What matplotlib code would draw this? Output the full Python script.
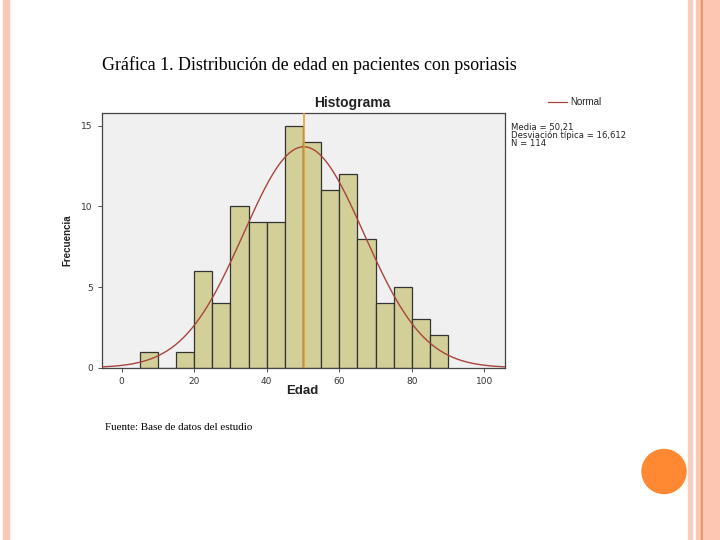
import numpy as np
import matplotlib.pyplot as plt
from matplotlib.patches import Circle, Rectangle

# histogram data (Edad, bins of 5 years)
bin_left = [5, 10, 15, 20, 25, 30, 35, 40, 45, 50, 55, 60, 65, 70, 75, 80, 85]
counts = [1, 0, 1, 6, 4, 10, 9, 9, 15, 14, 11, 12, 8, 4, 5, 3, 2]
bin_width = 5
media = 50.21
desv = 16.612
n_total = 114
x_ticks = [0, 20, 40, 60, 80, 100]
y_ticks = [0, 5, 10, 15]
stats_lines = ['Media = 50,21', 'Desviación típica = 16,612', 'N = 114']

W, H = 720, 540
fig = plt.figure(figsize=(7.2, 5.4), dpi=100)
fig.patch.set_facecolor('white')

def fx(px):
    return px / W

def fy(py):
    return 1 - py / H

# slide decoration
fig.patches.append(Rectangle((fx(3), 0), fx(6), 1, transform=fig.transFigure,
                             color='#F9C9B6', zorder=0))
fig.patches.append(Rectangle((fx(688), 0), fx(4), 1, transform=fig.transFigure,
                             color='#F9CDBD', zorder=0))
fig.patches.append(Rectangle((fx(696), 0), fx(5), 1, transform=fig.transFigure,
                             color='#FAC7B3', zorder=0))
fig.patches.append(Rectangle((fx(701), 0), fx(2), 1, transform=fig.transFigure,
                             color='#E9906A', zorder=0))
fig.patches.append(Rectangle((fx(703), 0), fx(17), 1, transform=fig.transFigure,
                             color='#FDC6B3', zorder=0))
ax_c = fig.add_axes([0, 0, 1, 1], zorder=0)
ax_c.set_xlim(0, W)
ax_c.set_ylim(H, 0)
ax_c.set_aspect('equal')
ax_c.axis('off')
ax_c.add_patch(Circle((664, 471.5), 22, color='#FF8833'))

# histogram
ax = fig.add_axes([fx(101.7), fy(367.7), fx(505 - 101.7), (367.7 - 112.7) / H], zorder=2)
ax.set_facecolor('#F0F0F0')
ax.bar(bin_left, counts, width=bin_width, align='edge', color='#D3CF99',
       edgecolor='#333333', linewidth=0.9, zorder=2)
xs = np.linspace(-5.5, 105.7, 400)
curve = n_total * bin_width * np.exp(-0.5 * ((xs - media) / desv) ** 2) / (desv * np.sqrt(2 * np.pi))
ax.plot(xs, curve, color='#A8443C', linewidth=1.0, zorder=3)
ax.axvline(media, color='#F0A030', linewidth=1.2, zorder=4)
ax.set_xlim(-5.5, 105.7)
ax.set_ylim(0, 15.8)
ax.set_xticks(x_ticks)
ax.set_yticks(y_ticks)
ax.tick_params(labelsize=6.5, length=3, width=0.6, colors='#333333')
for s in ax.spines.values():
    s.set_color('#444444')
    s.set_linewidth(0.9)

fig.text(fx(352), fy(103), 'Histograma', ha='center', va='center',
         fontsize=10, fontweight='bold', family='Liberation Sans', color='#222222')
fig.text(fx(302), fy(391), 'Edad', ha='center', va='center',
         fontsize=9.5, fontweight='bold', family='Liberation Sans', color='#222222')
fig.text(fx(67), fy(240), 'Frecuencia', ha='center', va='center', rotation=90,
         fontsize=7, fontweight='bold', family='Liberation Sans', color='#222222')

# legend and stats
fig.add_artist(plt.Line2D([fx(548), fx(567)], [fy(102), fy(102)], color='#A8443C', linewidth=0.9))
fig.text(fx(570), fy(102), 'Normal', ha='left', va='center', fontsize=7,
         family='Liberation Sans', color='#222222')
fig.text(fx(511), fy(135.5), '\n'.join(stats_lines), ha='left', va='center',
         fontsize=6.1, linespacing=0.8, family='DejaVu Sans', color='#222222')

fig.text(fx(102), fy(65), 'Gráfica 1. Distribución de edad en pacientes con psoriasis',
         ha='left', va='center', fontsize=12.9, family='Liberation Serif', color='black')
fig.text(fx(105), fy(428), 'Fuente: Base de datos del estudio',
         ha='left', va='center', fontsize=7.9, family='Liberation Serif', color='black')

fig.savefig('out.png', dpi=100)
